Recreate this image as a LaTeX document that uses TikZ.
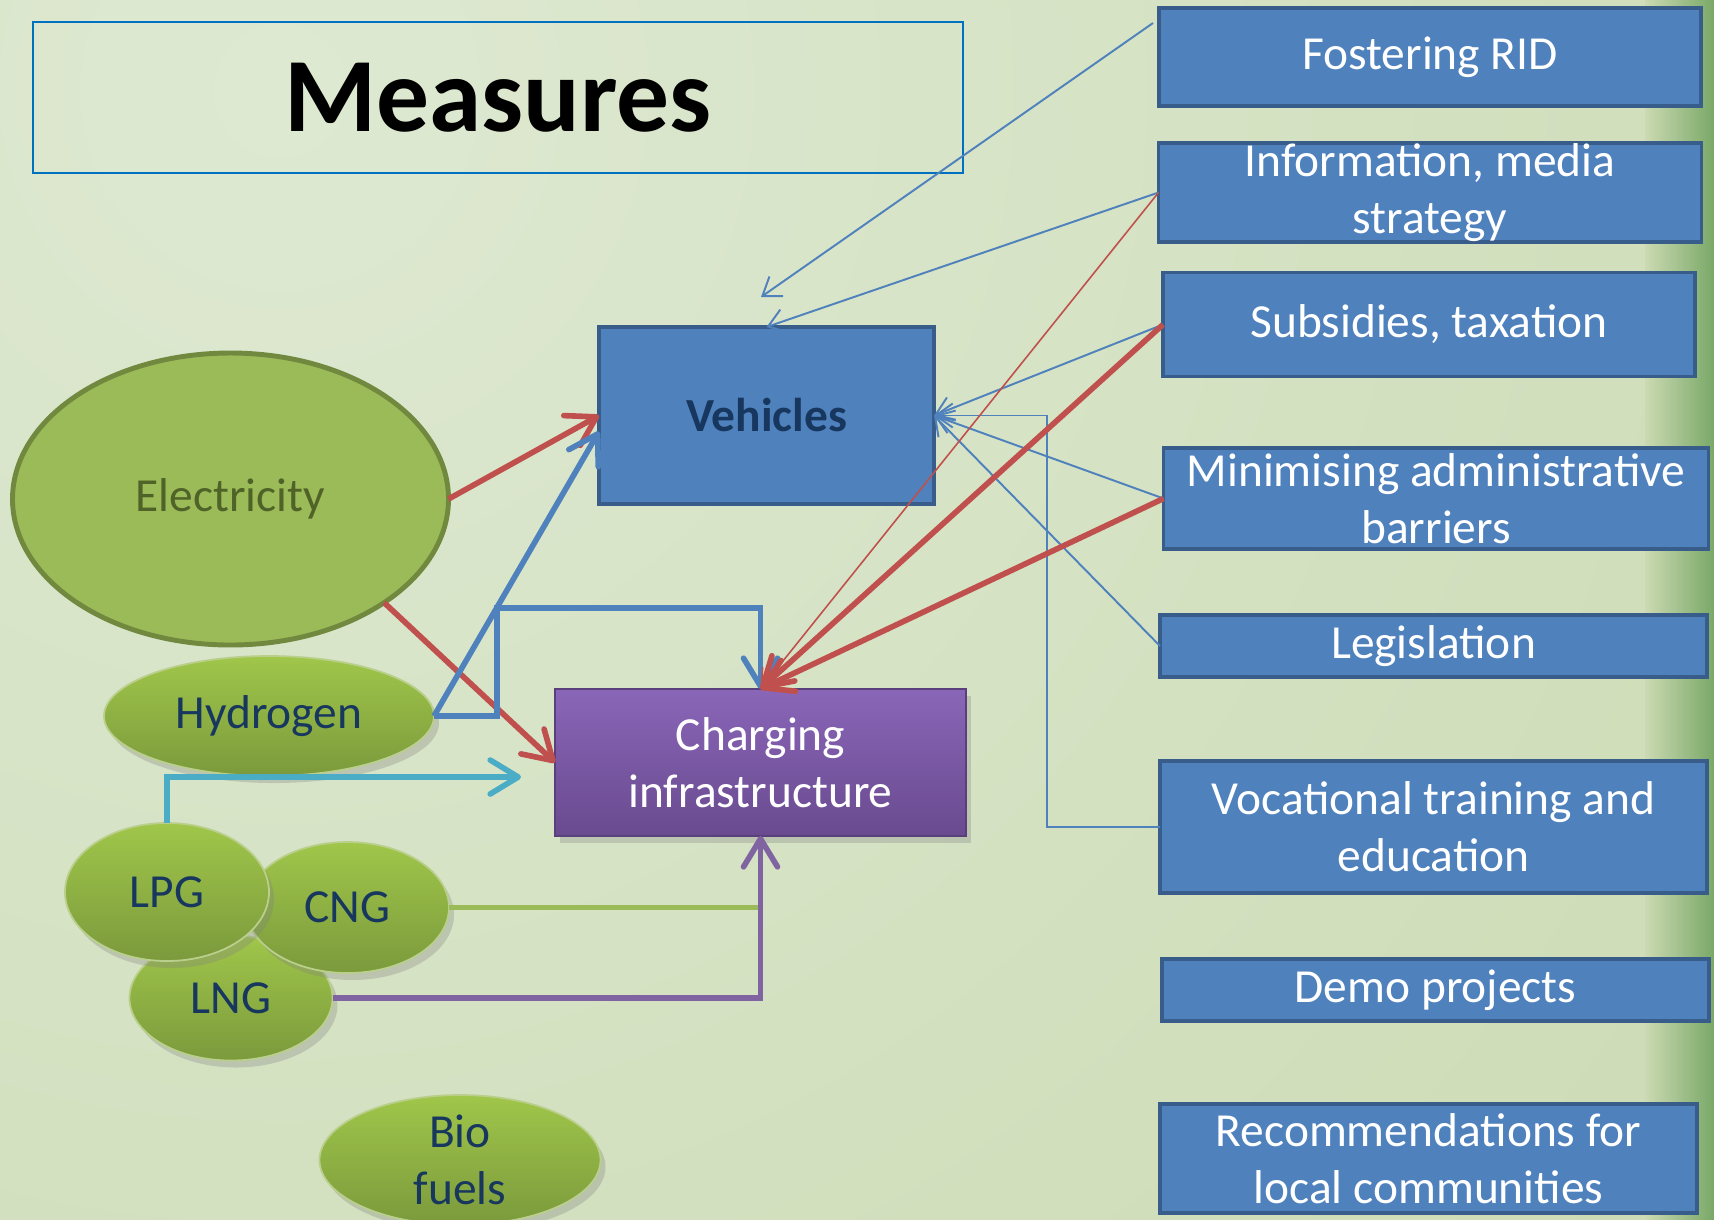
\documentclass[tikz,border=0pt]{standalone}
\usepackage{fontspec}
\setmainfont{Carlito}
\usetikzlibrary{shapes.geometric,positioning,calc,arrows.meta,shadows}
\usepackage{xcolor}

\definecolor{bgLight}{HTML}{DEE9D2}
\definecolor{bgMid}{HTML}{CBDAB2}
\definecolor{bgEdge}{HTML}{7AA868}
\definecolor{boxBlue}{HTML}{4F81BD}
\definecolor{boxLine}{HTML}{385D8A}
\definecolor{navy}{HTML}{17375E}
\definecolor{olive}{HTML}{4F6228}
\definecolor{leaf}{HTML}{9BBB59}
\definecolor{leafDark}{HTML}{71893F}
\definecolor{leafTop}{HTML}{A0C64A}
\definecolor{leafBot}{HTML}{7B9A3C}
\definecolor{arrRed}{HTML}{C0504D}
\definecolor{arrBlue}{HTML}{4F81BD}
\definecolor{arrCyan}{HTML}{4BACC6}
\definecolor{arrPurple}{HTML}{8064A2}
\definecolor{purpTop}{HTML}{8A66B8}
\definecolor{purpBot}{HTML}{694A8F}
\definecolor{purpLine}{HTML}{5A3F7D}
\definecolor{titleLine}{HTML}{0070C0}

\begin{document}
\begin{tikzpicture}[x=0.1mm,y=-0.1mm,
	every node/.style={inner sep=0pt,outer sep=0pt},
	txt/.style={font=\fontsize{13.5}{16.2}\selectfont,align=center},
	measure/.style={rectangle,draw=boxLine,line width=1.1pt,fill=boxBlue,text=white,txt},
	fuel/.style={ellipse,draw=leaf!70!white,line width=0.5pt,top color=leafTop,bottom color=leafBot,text=navy,txt,
		drop shadow={opacity=0.3,shadow xshift=0.5mm,shadow yshift=-0.7mm}},
	heavy/.style={line width=1.6pt,-{Straight Barb[length=2.8mm,width=3.4mm,round]}},
	light/.style={line width=0.55pt,-{Straight Barb[length=1.7mm,width=2.4mm]}}]
	\useasboundingbox (0,0) rectangle (1714,1219);
	\fill[bgMid] (0,0) rectangle (1714,1219);
	\begin{scope}
		\clip (0,0) rectangle (1714,1219);
		\shade[inner color=bgLight,outer color=bgMid] (280,90) circle (200mm);
	\end{scope}
	\shade[left color=bgMid,right color=bgEdge] (1645,0) rectangle (1714,1219);

	\node[draw=titleLine,line width=0.7pt,minimum width=93mm,minimum height=15.1mm,font=\fontsize{30}{36}\selectfont\bfseries] (title) at (498,97.5) {Measures};

	\node[measure,line width=1.4pt,minimum width=33.5mm,minimum height=17.7mm,text=navy,font=\fontsize{13.5}{16.2}\selectfont\bfseries] (veh) at (766.5,415.5) {Vehicles};
	\node[rectangle,draw=purpLine,line width=0.8pt,top color=purpTop,bottom color=purpBot,text=white,txt,minimum width=41.1mm,minimum height=14.7mm,
		drop shadow={opacity=0.3,shadow xshift=0.5mm,shadow yshift=-0.7mm}] (charge) at (760.5,762.5) {Charging\\infrastructure};

	\node[ellipse,draw=leafDark,line width=1.4pt,fill=leaf,text=olive,txt,minimum width=43.6mm,minimum height=29.2mm] (elec) at (230.5,499) {Electricity};
	\node[fuel,minimum width=33mm,minimum height=12mm] (hyd) at (269,716) {Hydrogen};
	\node[fuel,minimum width=20.3mm,minimum height=12.5mm] (lng) at (231,998) {LNG};
	\node[fuel,minimum width=20.3mm,minimum height=13.1mm] (cng) at (347.5,907.5) {CNG};
	\node[fuel,minimum width=20.4mm,minimum height=13.8mm] (lpg) at (167,892) {LPG};
	\node[fuel,minimum width=28.1mm,minimum height=13mm] (bio) at (460,1160) {Bio\\fuels};

	\node[measure,minimum width=54.2mm,minimum height=9.8mm] (fost) at (1430,57) {Fostering RID};
	\node[measure,minimum width=54.3mm,minimum height=9.9mm] (info) at (1430,192.5) {Information, media\\strategy};
	\node[measure,minimum width=53.2mm,minimum height=10.4mm] (subs) at (1429,324.5) {Subsidies, taxation};
	\node[measure,minimum width=54.5mm,minimum height=10.1mm] (mini) at (1436,498.5) {Minimising administrative\\barriers};
	\node[measure,minimum width=54.7mm,minimum height=6.2mm] (legi) at (1433.5,646) {Legislation};
	\node[measure,minimum width=54.7mm,minimum height=13.2mm] (voca) at (1433.5,827) {Vocational training and\\education};
	\node[measure,minimum width=54.7mm,minimum height=6.2mm] (demo) at (1435.5,990) {Demo projects};
	\node[measure,minimum width=53.7mm,minimum height=10.9mm] (reco) at (1428.5,1158.5) {Recommendations for\\local communities};

	\coordinate (fostend) at (761,297);
	\coordinate (lpgend) at (521,777);

	\draw[heavy,arrRed] (elec.east) -- (veh.west);
	\draw[heavy,arrRed] (elec.-34) -- (charge.west);
	\draw[heavy,arrBlue] (hyd.east) -- ([yshift=-1.6mm]veh.west);
	\draw[heavy,arrBlue] (hyd.east) -| (497,608) -| (charge.north);
	\draw[heavy,arrCyan] (lpg.north) |- (lpgend);
	\draw[line width=1.6pt,leaf] (cng.east) -- (cng.east -| charge.south);
	\draw[heavy,arrPurple] (lng.east) -| (charge.south);

	\draw[light,arrBlue] ([xshift=-0.6mm,yshift=-1.5mm]fost.north west) -- (fostend);
	\draw[light,arrBlue] (info.west) -- (veh.north);
	\draw[light,arrBlue] (subs.west) -- (veh.east);
	\draw[light,arrBlue] (mini.west) -- (veh.east);
	\draw[light,arrBlue] (legi.west) -- (veh.east);
	\draw[light,arrBlue] (voca.west) -| ([xshift=11.3mm]veh.east) -- (veh.east);
	\draw[light,arrRed,line width=0.45pt] (info.west) -- (charge.north);
	\draw[heavy,arrRed] (subs.west) -- (charge.north);
	\draw[heavy,arrRed] (mini.west) -- (charge.north);
\end{tikzpicture}
\end{document}
